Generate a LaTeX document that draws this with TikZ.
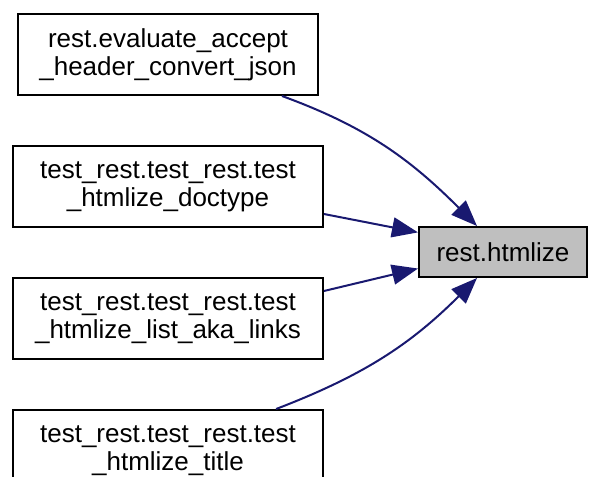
\documentclass[tikz,border=0pt]{standalone}
\usepackage{fontspec}
\setmainfont{Liberation Sans}
\usetikzlibrary{arrows.meta,positioning}
\definecolor{edgeblue}{RGB}{25,25,112}
\definecolor{rootgray}{RGB}{191,191,191}

\begin{document}
\begin{tikzpicture}[
  x=1pt, y=1pt,
  node distance=49pt and 96pt,
  fnbox/.style={rectangle, draw=black, fill=white, line width=2pt, minimum width=310pt,
                minimum height=81pt, inner sep=0pt, align=center,
                font=\fontsize{26}{28}\selectfont},
  rootbox/.style={fnbox, fill=rootgray, minimum width=168pt, minimum height=50pt},
  arrow/.style={-{Triangle[length=26pt, width=20pt]}, draw=edgeblue, line width=2pt}
]
\useasboundingbox (0,0) rectangle (590,-477);

% callers
\node[fnbox, minimum width=300pt] (evaljson) at (168,-54.5)
  {rest.evaluate\_accept\\\_header\_convert\_json};
\node[fnbox, below=of evaljson] (doctype)
  {test\_rest.test\_rest.test\\\_htmlize\_doctype};
\node[fnbox, below=of doctype] (akalinks)
  {test\_rest.test\_rest.test\\\_htmlize\_list\_aka\_links};
\node[fnbox, below=of akalinks] (title)
  {test\_rest.test\_rest.test\\\_htmlize\_title};

% called function
\node[rootbox] (htmlize) at (503,-252) {rest.htmlize};

% call edges
\draw[arrow] (evaljson) to[out=-20, in=135] (htmlize.135);
\draw[arrow] (doctype.-10.4) -- (htmlize.167);
\draw[arrow] (akalinks.10.8) -- (htmlize.191);
\draw[arrow] (title) to[out=21, in=-135] (htmlize.-135);

\end{tikzpicture}
\end{document}
